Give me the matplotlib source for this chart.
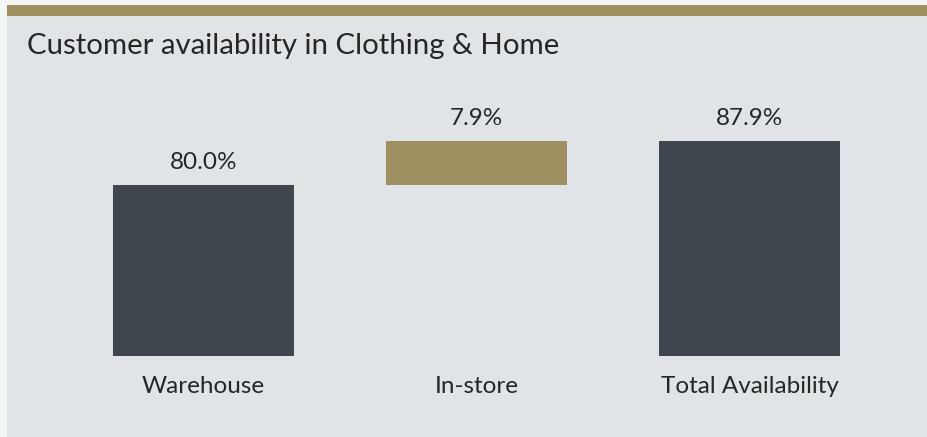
import matplotlib.pyplot as plt
from matplotlib.patches import Rectangle

# data
categories = ['Warehouse', 'In-store', 'Total Availability']
values = [80.0, 7.9, 87.9]
bases = [0, 80.0, 0]
labels = ['80.0%', '7.9%', '87.9%']
colors = ['#3f464e', '#a08f60', '#3f464e']

W, H = 927, 437
fig = plt.figure(figsize=(W / 100, H / 100), dpi=100, facecolor='#f4f5f5')

# panel background and gold strip
fig.patches.append(Rectangle((7 / W, 0), 1, (H - 5) / H, transform=fig.transFigure,
                             facecolor='#e1e4e7', edgecolor='none', zorder=-10))
fig.patches.append(Rectangle((7 / W, (H - 16) / H), 1, 11 / H, transform=fig.transFigure,
                             facecolor='#a08f60', edgecolor='none', zorder=-5))

font = dict(family=['Lato', 'DejaVu Sans'], weight='normal', color='#262626')

fig.text(27 / W, (H - 46) / H, 'Customer availability in Clothing & Home',
         fontsize=21.2, va='center', ha='left', **font)

# axes placed so the bars land where they are in the reference
ax = fig.add_axes([67 / W, 81 / H, 819 / W, 276 / H])
ax.set_facecolor('none')
ymin = 49.3
ymax = ymin + 276 / (44 / 7.9)
ax.set_xlim(-0.5, 2.5)
ax.set_ylim(ymin, ymax)

x = range(len(categories))
bottoms = [b if b > 0 else ymin for b in bases]
heights = [v if b > 0 else v - ymin for v, b in zip(values, bases)]
ax.bar(x, heights, bottom=bottoms, width=0.663, color=colors)

for i, (b, v, lab) in enumerate(zip(bases, values, labels)):
    top = b + v
    ax.annotate(lab, (i, top), xytext=(0, 23), textcoords='offset pixels',
                ha='center', va='center', fontsize=17.5, **font)
    ax.annotate(categories[i], (i, ymin), xytext=(0, -30), textcoords='offset pixels',
                ha='center', va='center', fontsize=17.5, **font)

ax.axis('off')

fig.savefig('out.png', dpi=100, facecolor=fig.get_facecolor())
